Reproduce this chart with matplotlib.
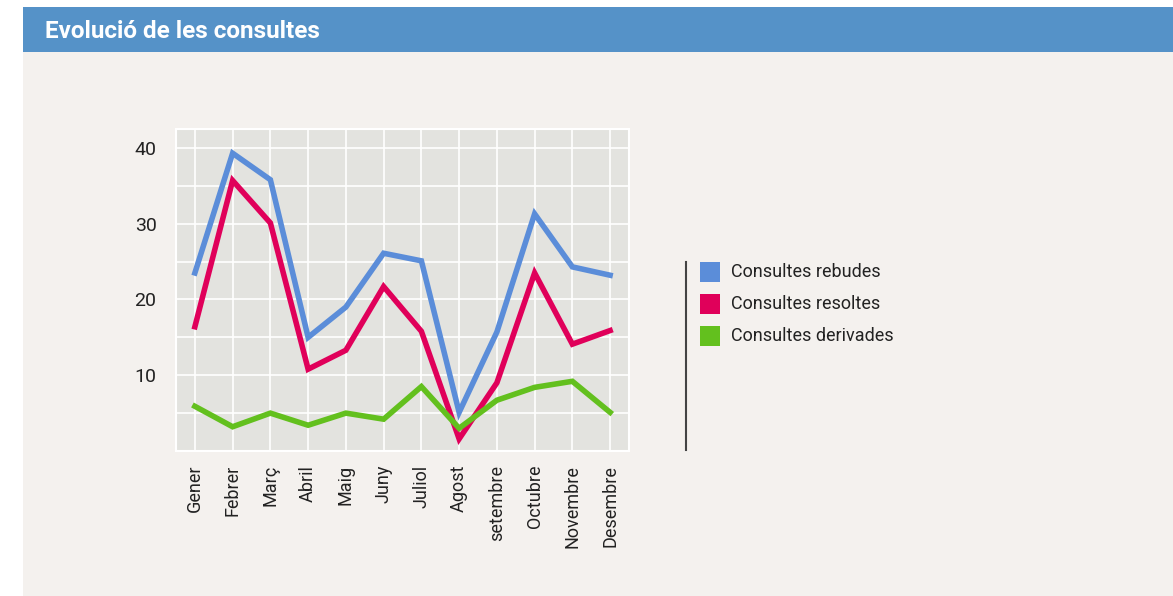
import matplotlib.pyplot as plt
from matplotlib.patches import Rectangle
from matplotlib.lines import Line2D

months = ['Gener', 'Febrer', 'Març', 'Abril', 'Maig', 'Juny', 'Juliol', 'Agost',
          'setembre', 'Octubre', 'Novembre', 'Desembre']
rebudes = [23.5, 39.3, 35.8, 15.0, 19.0, 26.1, 25.1, 5.1, 15.7, 31.3, 24.3, 23.2]
resoltes = [16.4, 35.7, 30.1, 10.8, 13.3, 21.7, 15.8, 1.6, 9.0, 23.5, 14.1, 15.9]
derivades = [5.9, 3.2, 5.0, 3.4, 5.0, 4.2, 8.5, 3.0, 6.7, 8.4, 9.2, 5.1]
series_names = ['Consultes rebudes', 'Consultes resoltes', 'Consultes derivades']
colors = ['#5b8dd9', '#e0005a', '#63c01e']

plt.rcParams['font.family'] = ['Roboto', 'DejaVu Sans']

W, H = 1173, 596
fig = plt.figure(figsize=(W / 100, H / 100), dpi=100)
fig.patch.set_facecolor('white')

# panel background and title bar
fig.add_artist(Rectangle((23 / W, 0), 1 - 23 / W, 1 - 52 / H, transform=fig.transFigure,
                         facecolor='#f4f1ee', edgecolor='none', zorder=0))
fig.add_artist(Rectangle((23 / W, 1 - 52 / H), 1 - 23 / W, 45 / H, transform=fig.transFigure,
                         facecolor='#5592c8', edgecolor='none', zorder=0))
fig.text(45 / W, 1 - 31 / H, 'Evolució de les consultes', color='white', fontsize=17.5,
         fontweight='bold', va='center', ha='left')

ax = fig.add_axes([176 / W, 1 - 451 / H, (629 - 176) / W, (451 - 129) / H])
ax.set_facecolor('#e3e3df')
x = list(range(len(months)))
for vals, c in zip([rebudes, resoltes, derivades], colors):
    ax.plot(x, vals, color=c, lw=4, solid_joinstyle='miter', zorder=3)

ax.set_xlim(-0.5, 11.5)
ax.set_ylim(0, 42.5)
ax.set_xticks(x)
ax.set_xticklabels(months, rotation=90, fontsize=13, color='#222222')
ax.set_yticks([0, 5, 10, 15, 20, 25, 30, 35, 40])
ax.set_yticklabels(['', '', '10', '', '20', '', '30', '', '40'], fontsize=14, color='#222222')
ax.grid(True, color='white', lw=1.2, zorder=1)
ax.set_axisbelow(True)
ax.tick_params(length=0, pad=10)
ax.tick_params(axis='y', pad=14)
for s in ax.spines.values():
    s.set_color('white')
    s.set_linewidth(1.5)

# legend
fig.add_artist(Line2D([686 / W, 686 / W], [1 - 262 / H, 1 - 450 / H], transform=fig.transFigure,
                      color='#444444', lw=1.5))
for i, (name, c) in enumerate(zip(series_names, colors)):
    yc = 272 + 32 * i
    fig.add_artist(Rectangle((700 / W, 1 - (yc + 10) / H), 20 / W, 20 / H,
                             transform=fig.transFigure, facecolor=c, edgecolor='none'))
    fig.text(731 / W, 1 - yc / H, name, fontsize=13, va='center', ha='left', color='#222222')

fig.savefig('out.png', dpi=100)
